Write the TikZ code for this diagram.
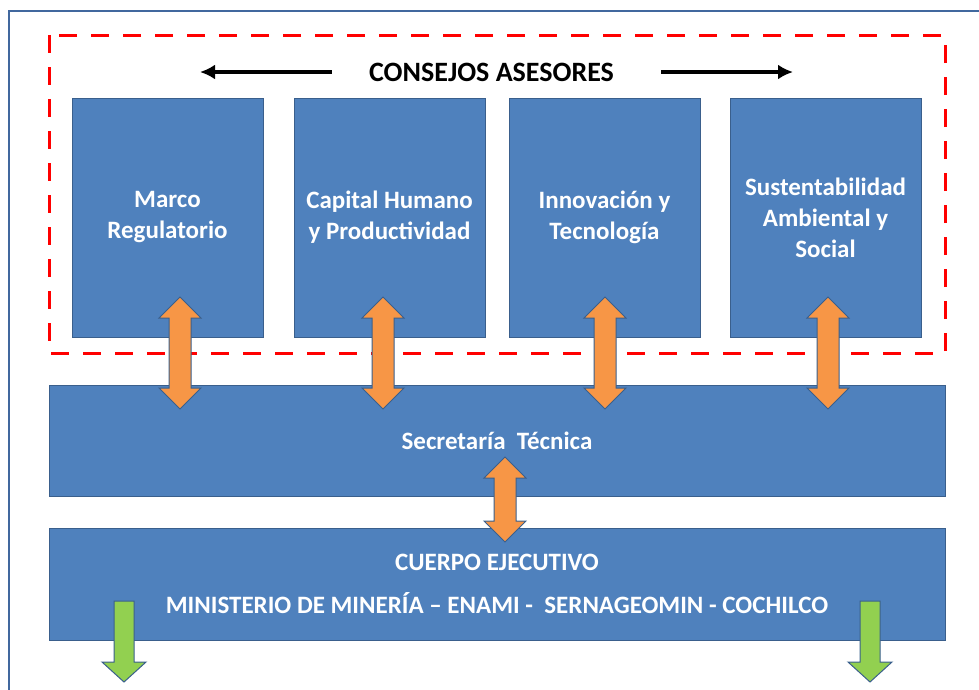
\documentclass[tikz,border=0pt]{standalone}
\usepackage{fontspec}
\setmainfont{Carlito}
\usetikzlibrary{arrows.meta,calc}
\definecolor{boxblue}{HTML}{4F81BD}
\definecolor{boxline}{HTML}{3A5F8C}
\definecolor{frameblue}{HTML}{41689E}
\definecolor{arrorange}{HTML}{F79646}
\definecolor{arrgreen}{HTML}{92D050}

\tikzset{council/.style={draw=boxline,fill=boxblue,line width=1pt,
		minimum width=191pt,minimum height=239pt,inner sep=0pt,
		text=white,font=\bfseries\fontsize{25}{31}\selectfont,align=center}
}
\tikzstyle{band}=[council,minimum width=896pt,minimum height=111pt]
\tikzstyle{linkarrow}=[draw=boxline,fill=arrorange,line width=1pt]
\tikzstyle{outarrow}=[draw=boxline,fill=arrgreen,line width=1pt]

% block arrow with a head at both ends, from tip #1 down to tip #2
\newcommand{\twoway}[2]{
	\draw[linkarrow] let \p1=(#1), \p2=(#2) in
	(\p1) -- (\x1+21pt,\y1-21pt) -- (\x1+11pt,\y1-21pt) -- (\x1+11pt,\y2+21pt)
	-- (\x1+21pt,\y2+21pt) -- (\p2) -- (\x1-21pt,\y2+21pt) -- (\x1-11pt,\y2+21pt)
	-- (\x1-11pt,\y1-21pt) -- (\x1-21pt,\y1-21pt) -- cycle;
}
% block arrow pointing down, tail #1, tip #2
\newcommand{\oneway}[2]{
	\draw[outarrow] let \p1=(#1), \p2=(#2) in
	(\x1-10pt,\y1) -- (\x1+10pt,\y1) -- (\x1+10pt,\y2+20pt) -- (\x1+22pt,\y2+20pt)
	-- (\p2) -- (\x1-22pt,\y2+20pt) -- (\x1-10pt,\y2+20pt) -- cycle;
}

\begin{document}
\begin{tikzpicture}[x=1pt,y=-1pt]
	\useasboundingbox (0,0) rectangle (979,689);
	\draw[frameblue,line width=2pt] (9,700) -- (9,11) -- (990,11);
	\draw[red,line width=3pt,dash pattern=on 18pt off 14pt] (49,35) rectangle (945,353);

	\begin{scope}[>={Latex[length=15pt,width=15pt]}] %for the title arrows
		\node (title) at (491.5,72) {\bfseries\fontsize{28}{32}\selectfont CONSEJOS ASESORES};
		\coordinate (leftend) at (200,72);
		\coordinate (rightend) at (793,72);
		\draw[->,line width=4pt] ([xshift=-34pt]title.west) -- (leftend);
		\draw[->,line width=4pt] ([xshift=44pt]title.east) -- (rightend);
	\end{scope}

	\node[council] (C1) at (167.5,217.5) {Marco\\Regulatorio};
	\node[council] (C2) at (389.5,217.5) {Capital Humano\\y Productividad};
	\node[council] (C3) at (604.5,217.5) {Innovación y\\Tecnología};
	\node[council] (C4) at (825.5,217.5) {Sustentabilidad\\Ambiental y\\Social};

	\node[band] (sec) at (497,440.5) {Secretaría~ Técnica};
	\node[band,minimum height=112pt] (exec) at (497,584)
		{CUERPO EJECUTIVO\\[12pt]MINISTERIO DE MINERÍA – ENAMI -~ SERNAGEOMIN - COCHILCO};

	\foreach \nr/\xx in {1/180, 2/383, 3/605, 4/828}{
		\coordinate (up\nr) at (\xx,297);
		\coordinate (dn\nr) at (\xx,409);
		\twoway{up\nr}{dn\nr}
	}
	\coordinate (secup) at (505,457);
	\coordinate (secdn) at (505,542);
	\twoway{secup}{secdn}

	\foreach \nr/\xx in {1/124, 2/870}{
		\coordinate (out\nr) at (\xx,601);
		\coordinate (tip\nr) at (\xx,682);
		\oneway{out\nr}{tip\nr}
	}
\end{tikzpicture}
\end{document}
